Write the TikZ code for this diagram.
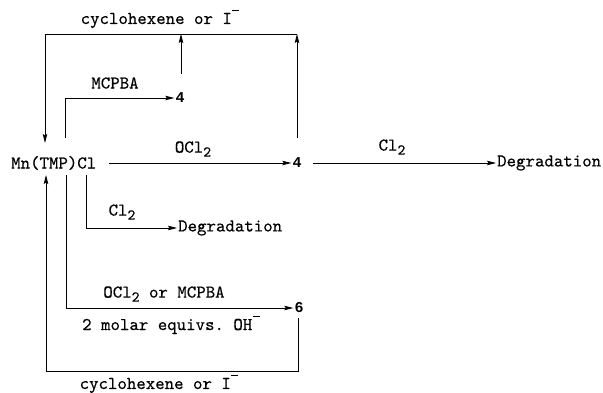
\documentclass[tikz,border=0pt]{standalone}
\usepackage{fontspec}
\setmonofont{lmmono10-regular.otf}[FakeBold=0.4]
\newfontfamily\numfont{Liberation Mono Bold}
\usetikzlibrary{arrows.meta,calc}
\tikzset{
  txt/.style={inner sep=1pt, font=\fontsize{18}{20}\selectfont\ttfamily},
  num/.style={inner sep=1pt, font=\fontsize{15}{18}\selectfont\numfont},
  conn/.style={line width=0.8pt},
  arr/.style={conn, -{Stealth[length=9pt,width=4.5pt,inset=1.5pt]}}
}
\newcommand{\minsup}{\kern0.5pt\raisebox{13pt}{\rule{7pt}{1.1pt}}}
\newcommand{\subtwo}{\raisebox{-4pt}{\fontsize{15}{16}\selectfont 2}}
\begin{document}
\begin{tikzpicture}[x=1pt,y=-1pt]
\useasboundingbox (0,0) rectangle (603,393);
% main nodes
\node[txt, anchor=west] (mn) at (10,163) {Mn(TMP)Cl};
\node[num] (fourA) at (180,98) {4};
\node[num] (fourB) at (297,163) {4};
\node[txt, anchor=west] (degA) at (496,163) {Degradation};
\node[txt, anchor=west] (degB) at (177,228) {Degradation};
\node[num] (six) at (299,308) {6};
% labels
\node[txt] (ltop) at (160,19) {cyclohexene or I\minsup};
\node[txt] (lmcpba) at (115,83) {MCPBA};
\node[txt] (locl) at (193,149) {OCl\subtwo};
\node[txt] (lcl) at (392,147) {Cl\subtwo};
\node[txt] (lclb) at (122,212) {Cl\subtwo};
\node[txt] (loclm) at (164,294) {OCl\subtwo{} or MCPBA};
\node[txt] (loh) at (171,325) {2 molar equivs. OH\minsup};
\node[txt] (lbot) at (159,384) {cyclohexene or I\minsup};
% coordinates
\coordinate (tl) at (45,34);
\coordinate (tm) at (181,34);
\coordinate (tr) at (297,34);
\coordinate (mstart) at (181,74);
\coordinate (rstart) at (297,138);
\coordinate (ldown) at (45,143);
\coordinate (mcpA) at (65,138);
\coordinate (mcpB) at (65,98);
\coordinate (oclA) at (109,163);
\coordinate (clA) at (313,163);
\coordinate (dA) at (86,175);
\coordinate (dB) at (86,228);
\coordinate (eA) at (66,175);
\coordinate (eB) at (66,308);
\coordinate (bA) at (298,318);
\coordinate (br) at (298,371);
\coordinate (bl) at (46,371);
\coordinate (lup) at (46,175);
% connectors
\draw[arr] (mstart) -- (tm);
\draw[arr] (rstart) -- (tr);
\draw[arr] (tr) -- (tl) -- (ldown);
\draw[arr] (mcpA) -- (mcpB) -- (fourA.west);
\draw[arr] (oclA) -- (fourB.west);
\draw[arr] (clA) -- (degA.west);
\draw[arr] (dA) -- (dB) -- (degB.west);
\draw[arr] (eA) -- (eB) -- (six.west);
\draw[arr] (bA) -- (br) -- (bl) -- (lup);
\end{tikzpicture}
\end{document}
